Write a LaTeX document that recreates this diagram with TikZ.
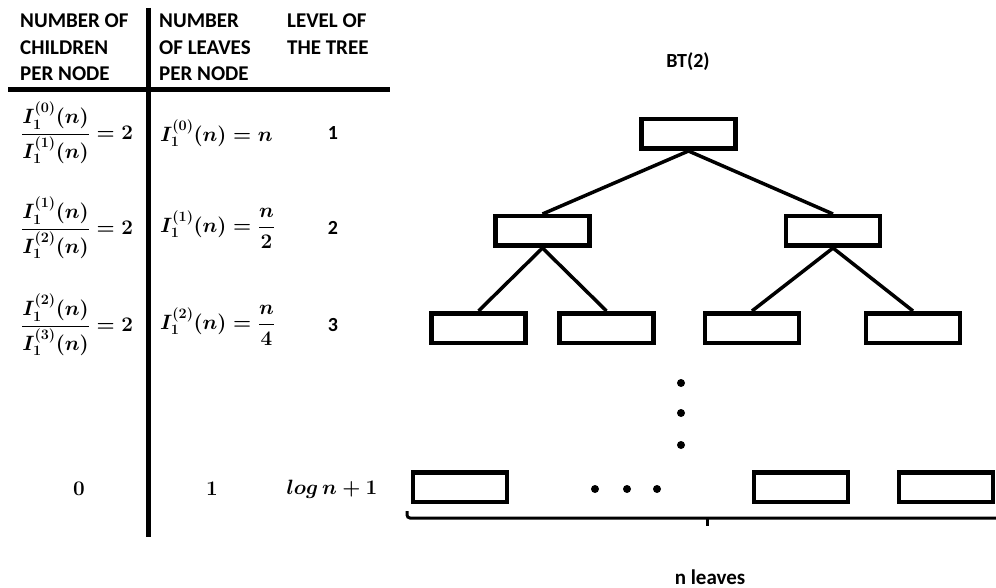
\documentclass[tikz,border=0pt]{standalone}
\usepackage{amsmath}
\usepackage{fontspec}
\newfontfamily\hdr{Carlito}
\begin{document}
\begin{tikzpicture}[x=1pt,y=-1pt,
  hd/.style={font={\hdr\bfseries\fontsize{21}{26.5}\selectfont}, align=left, inner sep=0pt, anchor=north west},
  lvl/.style={font={\hdr\bfseries\fontsize{20}{22}\selectfont}, inner sep=0pt},
  mth/.style={font={\fontsize{20.74}{24}\selectfont\boldmath}, inner sep=0pt},
  num/.style={font={\fontsize{20.74}{24}\selectfont\bfseries}, inner sep=0pt},
  rule/.style={line width=5pt},
  box/.style={draw, line width=4.5pt, minimum width=94pt, minimum height=29.5pt, inner sep=0pt},
  edge/.style={line width=3.5pt},
  dot/.style={fill, circle, minimum size=8pt, inner sep=0pt}]
\useasboundingbox (0,0) rectangle (996,588);
% table rules
\coordinate (vt) at (148,8);
\coordinate (vb) at (148,537);
\coordinate (hl) at (8,90);
\coordinate (hr) at (390,90);
\draw[rule] (vt) -- (vb);
\draw[rule] (hl) -- (hr);
% headers
\node[hd] (h1) at (20,14) {NUMBER OF\\CHILDREN\\PER NODE};
\node[hd] (h2) at (159,14) {NUMBER\\OF LEAVES\\PER NODE};
\node[hd] (h3) at (287,14) {LEVEL OF\\THE TREE};
% rows
\node[mth, anchor=west] (c1) at (21,133) {$\dfrac{I_1^{(0)}(n)}{I_1^{(1)}(n)} = 2$};
\node[mth, anchor=west] (c2) at (21,228) {$\dfrac{I_1^{(1)}(n)}{I_1^{(2)}(n)} = 2$};
\node[mth, anchor=west] (c3) at (21,325) {$\dfrac{I_1^{(2)}(n)}{I_1^{(3)}(n)} = 2$};
\node[mth, anchor=west] (l1) at (160,133) {$I_1^{(0)}(n) = n$};
\node[mth, anchor=west] (l2) at (160,228) {$I_1^{(1)}(n) = \dfrac{n}{2}$};
\node[mth, anchor=west] (l3) at (160,325) {$I_1^{(2)}(n) = \dfrac{n}{4}$};
\node[lvl] (v1) at (333,133) {1};
\node[lvl] (v2) at (333,228) {2};
\node[lvl] (v3) at (333,325) {3};
\node[num] (c4) at (79,489) {0};
\node[num] (l4) at (212,489) {1};
\node[mth] (v4) at (332,489) {$log\, n + 1$};
% tree
\node[lvl] (title) at (688,62) {BT(2)};
\node[box] (r) at (688.5,134) {};
\node[box] (a) at (542.5,231) {};
\node[box] (b) at (833,231) {};
\node[box] (a1) at (478.5,328) {};
\node[box] (a2) at (606.5,328) {};
\node[box] (b1) at (752,328) {};
\node[box] (b2) at (913,328) {};
\node[box] (f1) at (460,487) {};
\node[box] (f2) at (801,487) {};
\node[box] (f3) at (946,487) {};
\draw[edge] (r.south) -- (a.north);
\draw[edge] (r.south) -- (b.north);
\draw[edge] (a.south) -- (a1.north);
\draw[edge] (a.south) -- (a2.north);
\draw[edge] (b.south) -- (b1.north);
\draw[edge] (b.south) -- (b2.north);
% dots
\node[dot] (d1) at (681,383) {};
\node[dot] (d2) at (681,413) {};
\node[dot] (d3) at (681,445) {};
\node[dot] (e1) at (595,489) {};
\node[dot] (e2) at (627,489) {};
\node[dot] (e3) at (657,489) {};
% brace
\coordinate (bl) at (407,511);
\coordinate (br) at (998,518);
\coordinate (bm) at (707,518);
\coordinate (bt) at (707,526);
\draw[line width=3pt, rounded corners=3pt] (bl) |- (br);
\draw[line width=3pt] (bm) -- (bt);
\node[font={\hdr\bfseries\fontsize{21}{24}\selectfont}, inner sep=0pt] (nl) at (710,577) {n leaves};
\end{tikzpicture}
\end{document}
